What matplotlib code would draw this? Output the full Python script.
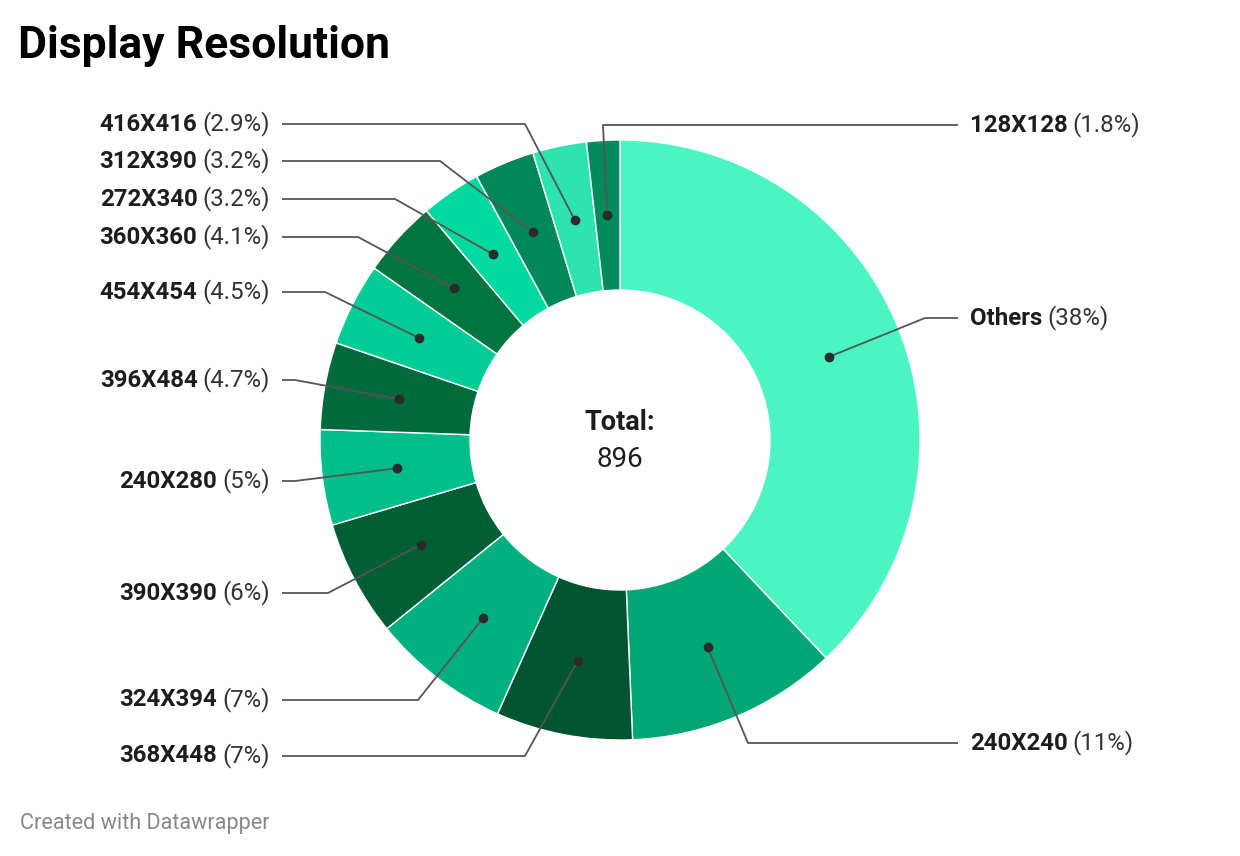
import numpy as np
import matplotlib
matplotlib.use("Agg")
import matplotlib.pyplot as plt

plt.rcParams['font.family'] = ['Roboto', 'DejaVu Sans']

W, H = 1240, 856

# data: counts per display resolution (clockwise from 12 o'clock)
resolutions = ["Others", "240X240", "368X448", "324X394", "390X390", "240X280",
               "396X484", "454X454", "360X360", "272X340", "312X390", "416X416", "128X128"]
counts = [340, 102, 66, 67, 56, 46, 42, 40, 37, 29, 29, 26, 16]
shares = ["38%", "11%", "7%", "7%", "6%", "5%", "4.7%", "4.5%", "4.1%",
          "3.2%", "3.2%", "2.9%", "1.8%"]
colors = ["#4bf5c2", "#00a674", "#005530", "#00b07f", "#005e34", "#00be89",
          "#006a3c", "#00cc95", "#00753f", "#00da9e", "#00875a", "#2de4ae", "#008b5d"]

# label layout (pixels from top-left)
label_y = [318, 743, 756, 700, 593, 481, 380, 292, 237, 199, 161, 124, 125]
side = ['R', 'R', 'L', 'L', 'L', 'L', 'L', 'L', 'L', 'L', 'L', 'L', 'R']
elbow_x = [925, 748, 525, 418, 328, 295, 295, 325, 358, 395, 440, 525, 603]

cx, cy = 620, 440
R_out, ring = 300, 150
fs = 17.3

fig = plt.figure(figsize=(W / 100, H / 100), dpi=100)
ax = fig.add_axes([0, 0, 1, 1])

wedges, _ = ax.pie(counts, colors=colors, startangle=90, counterclock=False,
                   radius=R_out, center=(cx, H - cy),
                   wedgeprops=dict(width=ring, edgecolor='white', linewidth=1.0))
ax.set_xlim(0, W)
ax.set_ylim(0, H)
ax.set_aspect('equal')
ax.axis('off')

renderer = fig.canvas.get_renderer()

for i, w in enumerate(wedges):
    mid = np.deg2rad((w.theta1 + w.theta2) / 2)
    r_mid = R_out - ring / 2
    dx, dy = cx + r_mid * np.cos(mid), (H - cy) + r_mid * np.sin(mid)
    ly = H - label_y[i]
    if side[i] == 'R':
        xs = [dx, elbow_x[i], 958]
    else:
        xs = [dx, elbow_x[i], 282]
    ax.plot(xs, [dy, ly, ly], color='#555555', lw=1.3, solid_capstyle='butt', zorder=3)
    ax.plot(dx, dy, 'o', ms=6, color='#2b2b2b', zorder=4)

    if side[i] == 'R':
        t = ax.text(970, ly, resolutions[i], fontsize=fs, fontweight='bold',
                    color='#1d1d1d', ha='left', va='center')
        bb = t.get_window_extent(renderer)
        ax.text(bb.x1 + 5, ly, f"({shares[i]})", fontsize=fs, color='#333333',
                ha='left', va='center')
    else:
        t = ax.text(270, ly, f"({shares[i]})", fontsize=fs, color='#333333',
                    ha='right', va='center')
        bb = t.get_window_extent(renderer)
        ax.text(bb.x0 - 5, ly, resolutions[i], fontsize=fs, fontweight='bold',
                color='#1d1d1d', ha='right', va='center')

ax.text(cx, H - 422, "Total:", fontsize=19.5, fontweight='bold', color='#1d1d1d',
        ha='center', va='center')
ax.text(cx, H - 459, f"{sum(counts)}", fontsize=20, color='#1d1d1d',
        ha='center', va='center')

ax.text(18, H - 46, "Display Resolution", fontsize=32, fontweight='bold',
        color='#000000', ha='left', va='center')
ax.text(20, H - 823, "Created with Datawrapper", fontsize=15.6, color='#888888',
        ha='left', va='center')

fig.savefig("out.png", dpi=100)
